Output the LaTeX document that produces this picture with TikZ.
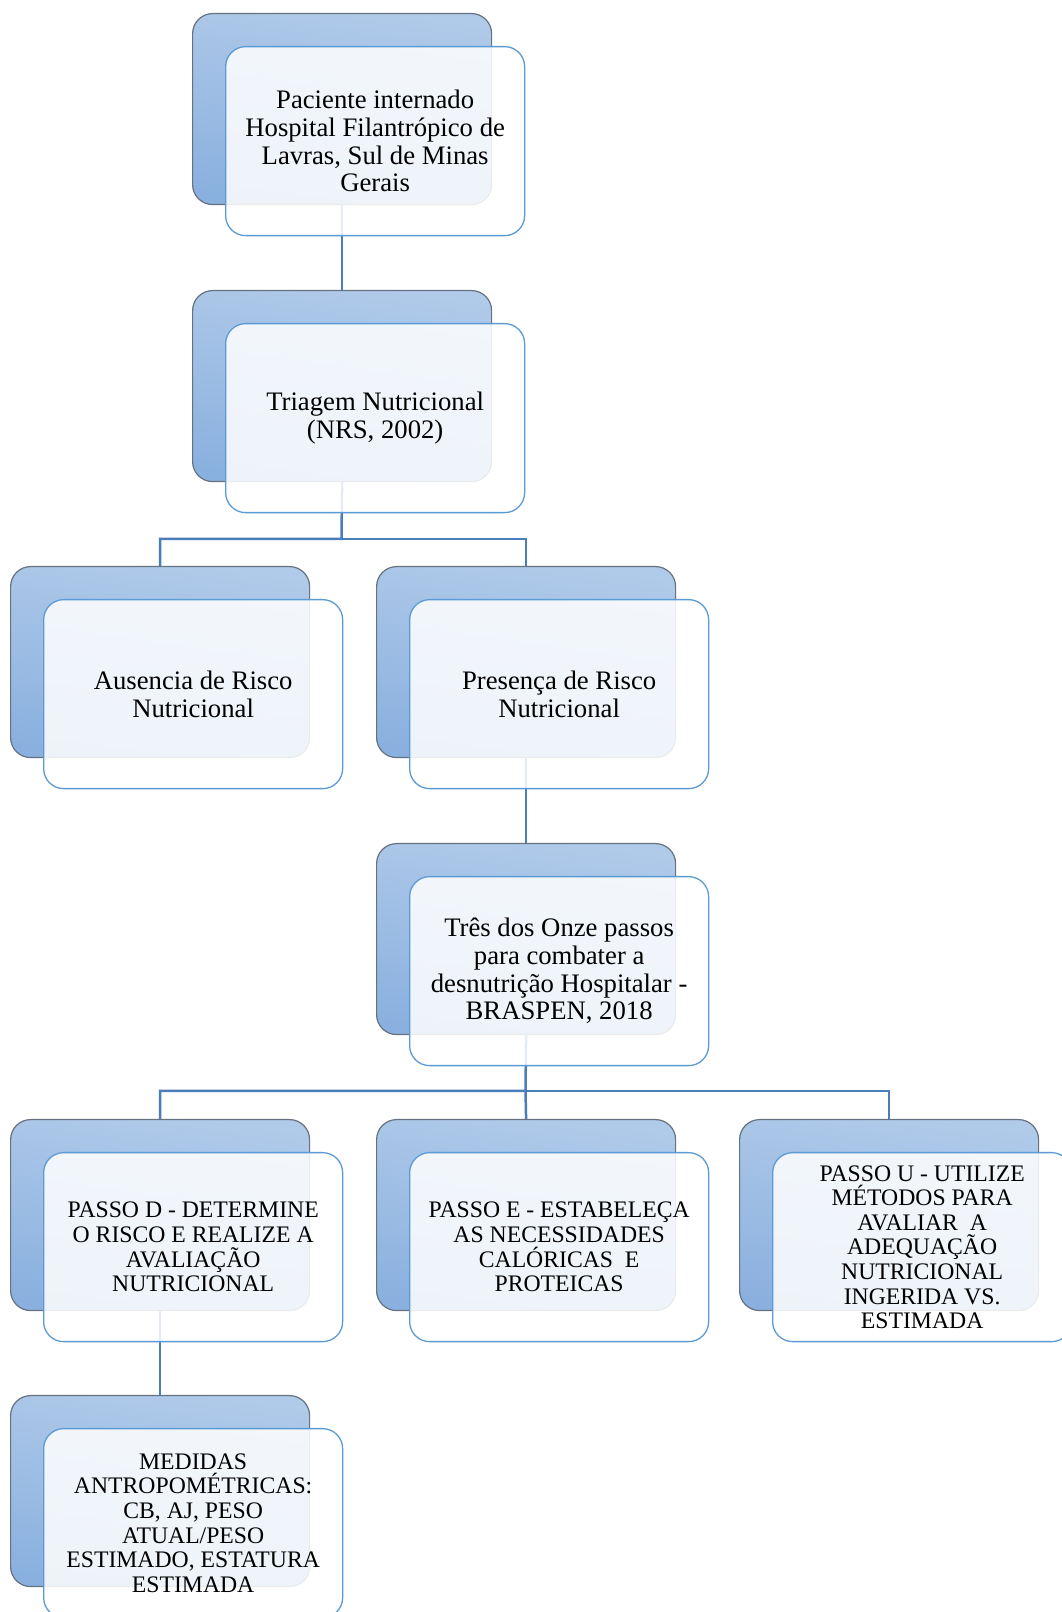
\documentclass[tikz,border=0pt]{standalone}
\usepackage{fontspec}
\setmainfont{Liberation Serif}
\usetikzlibrary{backgrounds}
\definecolor{backtop}{HTML}{B0CAE9}
\definecolor{backbot}{HTML}{8AB0DF}
\definecolor{backline}{HTML}{66727F}
\definecolor{frontline}{HTML}{5B9BD5}
\definecolor{conn}{HTML}{4A7EBB}
\newcommand\bigtxt{\fontsize{26.7}{27.6}\selectfont}
\newcommand\smalltxt{\fontsize{23.7}{24.6}\selectfont}
\begin{document}
\begin{tikzpicture}[x=1pt,y=1pt,
  backbox/.style={draw=backline, line width=1.2pt, rounded corners=20pt,
    top color=backtop, bottom color=backbot, shading angle=-8,
    minimum width=299pt, minimum height=191pt, anchor=north west, inner sep=0pt},
  frontbox/.style={draw=frontline, line width=1.3pt, rounded corners=20pt,
    fill=white, fill opacity=0.86, text opacity=1,
    minimum width=299pt, minimum height=189pt, anchor=north west, inner sep=0pt,
    align=center, font=\bigtxt},
  smallfront/.style={frontbox, font=\smalltxt},
  connline/.style={draw=conn, line width=2.5pt}]
\useasboundingbox (0,0) rectangle (1062,1612);

% back boxes
\node[backbox] (b1)  at (192,1599) {};
\node[backbox] (b2)  at (192,1322) {};
\node[backbox] (b3a) at (10,1046) {};
\node[backbox] (b3c) at (376,1046) {};
\node[backbox] (b4)  at (376,769) {};
\node[backbox] (b5a) at (10,493) {};
\node[backbox] (b5c) at (376,493) {};
\node[backbox] (b5d) at (739,493) {};
\node[backbox] (b6)  at (10,217) {};

% front boxes
\node[frontbox] (f1) at (225,1566) {Paciente internado\\Hospital Filantrópico de\\Lavras, Sul de Minas\\Gerais};
\node[frontbox] (f2) at (225,1289) {Triagem Nutricional\\(NRS, 2002)};
\node[frontbox] (f3a) at (43,1013) {Ausencia de Risco\\Nutricional};
\node[frontbox] (f3c) at (409,1013) {Presença de Risco\\Nutricional};
\node[frontbox] (f4) at (409,736) {Três dos Onze passos\\para combater a\\desnutrição Hospitalar -\\BRASPEN, 2018};
\node[smallfront] (f5a) at (43,460) {PASSO D - DETERMINE\\O RISCO E REALIZE A\\AVALIAÇÃO\\NUTRICIONAL};
\node[smallfront] (f5c) at (409,460) {PASSO E - ESTABELEÇA\\AS NECESSIDADES\\CALÓRICAS\ \ E\\PROTEICAS};
\node[smallfront] (f5d) at (772,460) {PASSO U - UTILIZE\\MÉTODOS PARA\\AVALIAR\ \ A\\ADEQUAÇÃO\\NUTRICIONAL\\INGERIDA VS.\\ESTIMADA};
\node[smallfront] (f6) at (43,184) {MEDIDAS\\ANTROPOMÉTRICAS:\\CB, AJ, PESO\\ATUAL/PESO\\ESTIMADO, ESTATURA\\ESTIMADA};

\coordinate (j1) at (341.5,1073);
\coordinate (j2) at (525.5,521);

\begin{pgfonlayer}{background}
\fill[white] (0,0) rectangle (1062,1612);
\draw[connline] (b1.south) -- (b2.north);
\draw[connline] (b2.south) -- (j1) -| (b3a.north);
\draw[connline] (j1) -| (b3c.north);
\draw[connline] (b3c.south) -- (b4.north);
\draw[connline] (b4.south) -- (j2) -| (b5a.north);
\draw[connline] (j2) -| (b5d.north);
\draw[connline] (j2) -- (b5c.north);
\draw[connline] (b5a.south) -- (b6.north);
\end{pgfonlayer}
\end{tikzpicture}
\end{document}
